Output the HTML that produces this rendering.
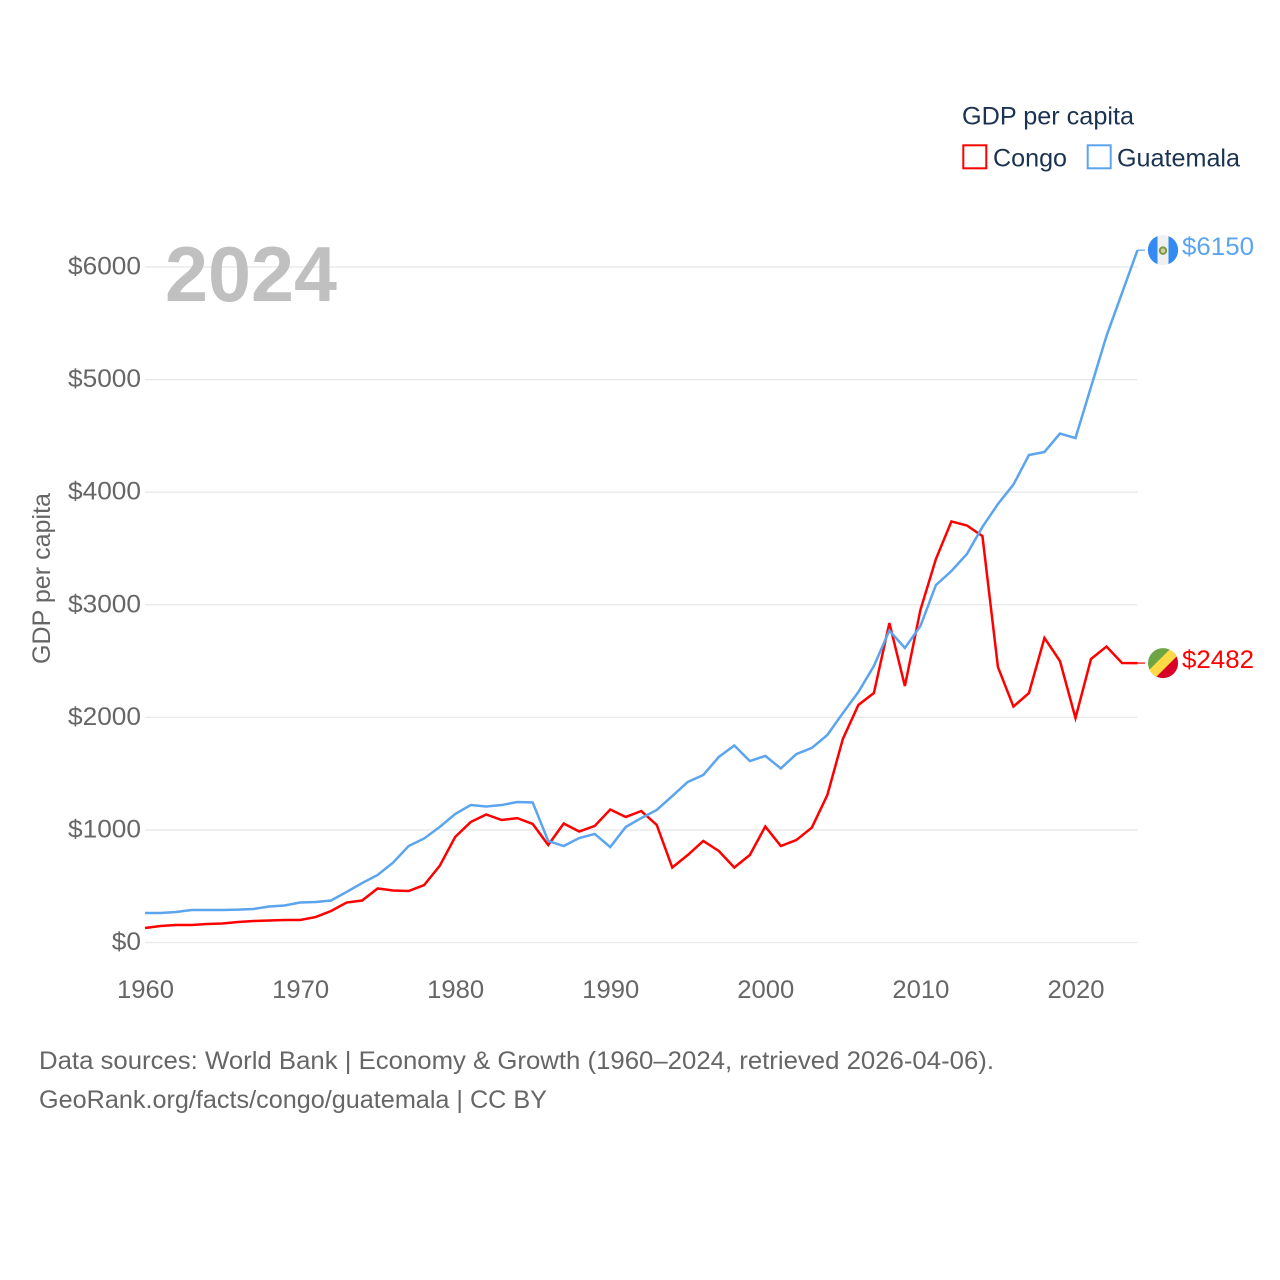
<!DOCTYPE html>
<html lang="en">
<head>
<meta charset="utf-8">
<title>GDP per capita: Congo and Guatemala</title>
<style>
  html, body { margin: 0; padding: 0; background: #fff; }
  svg { display: block; font-family: "Liberation Sans", sans-serif; }
</style>
</head>
<body>
<svg id="chart" xmlns="http://www.w3.org/2000/svg" width="1280" height="1280" viewBox="0 0 1280 1280">
  <rect x="0" y="0" width="1280" height="1280" fill="#ffffff"/>
  <g id="grid"></g>
  <g id="y-ticks"></g>
  <g id="x-ticks"></g>
  <text x="165" y="301" font-size="78" font-weight="bold" fill="#c0c0c0" textLength="172" lengthAdjust="spacingAndGlyphs">2024</text>
  <text transform="translate(50,664) rotate(-90)" font-size="25" fill="#666666" textLength="171" lengthAdjust="spacingAndGlyphs">GDP per capita</text>
  <g id="series"></g>
  <g id="end-markers"></g>
  <g>
    <text x="962" y="124.5" font-size="25" fill="#1b3251" textLength="172" lengthAdjust="spacingAndGlyphs">GDP per capita</text>
    <rect x="963.3" y="145.3" width="23" height="23" fill="none" stroke="#ff0000" stroke-width="2"/>
    <text x="993" y="166.5" font-size="25" fill="#1b3251" textLength="74" lengthAdjust="spacingAndGlyphs">Congo</text>
    <rect x="1087.7" y="145.3" width="23" height="23" fill="none" stroke="#5ba4ee" stroke-width="2"/>
    <text x="1117" y="166.5" font-size="25" fill="#1b3251" textLength="123" lengthAdjust="spacingAndGlyphs">Guatemala</text>
  </g>
  <text x="39" y="1069" font-size="25" fill="#666666" textLength="955" lengthAdjust="spacingAndGlyphs">Data sources: World Bank | Economy &amp; Growth (1960–2024, retrieved 2026-04-06).</text>
  <text x="39" y="1108" font-size="25" fill="#666666" textLength="508" lengthAdjust="spacingAndGlyphs">GeoRank.org/facts/congo/guatemala | CC BY</text>
</svg>
<script>
const startYear = 1960;
const xTickYears = [1960, 1970, 1980, 1990, 2000, 2010, 2020];
const yTickValues = [0, 1000, 2000, 3000, 4000, 5000, 6000];
const congoValues = [
  129, 147, 155, 156, 164, 169, 182, 191, 195, 200,
  200, 226, 280, 355, 373, 480, 462, 457, 510, 680,
  937, 1070, 1137, 1088, 1105, 1053, 866, 1057, 986, 1035,
  1181, 1115, 1168, 1044, 666, 777, 902, 813, 666, 777,
  1030, 857, 910, 1021, 1310, 1808, 2110, 2216, 2838, 2278,
  2953, 3406, 3740, 3704, 3610, 2447, 2096, 2216, 2705, 2500,
  1994, 2518, 2629, 2483, 2482
];
const guatemalaValues = [
  262, 262, 271, 289, 289, 289, 292, 298, 320, 329,
  355, 360, 373, 449, 528, 600, 710, 857, 924, 1026,
  1141, 1221, 1208, 1221, 1248, 1244, 902, 857, 928, 964,
  848, 1026, 1105, 1177, 1301, 1426, 1488, 1648, 1750, 1612,
  1657, 1546, 1674, 1728, 1843, 2038, 2225, 2456, 2771, 2616,
  2811, 3175, 3300, 3451, 3691, 3895, 4068, 4330, 4357, 4521,
  4481, 4934, 5388, 5769, 6150
];

const NS = 'http://www.w3.org/2000/svg';
const xScale = year => 145 + (year - 1960) * 15.508;
const yScale = value => 942.5 - value * 0.11258;
const lastYear = startYear + congoValues.length - 1;

function make(tag, attrs, parent) {
  const el = document.createElementNS(NS, tag);
  for (const k in attrs) el.setAttribute(k, attrs[k]);
  parent.appendChild(el);
  return el;
}

const gridGroup = document.getElementById('grid');
const yTickGroup = document.getElementById('y-ticks');
const xTickGroup = document.getElementById('x-ticks');
const seriesGroup = document.getElementById('series');
const markerGroup = document.getElementById('end-markers');

yTickValues.forEach(value => {
  const line = make('line', { x1: xScale(startYear), x2: xScale(lastYear), y1: yScale(value), y2: yScale(value), stroke: '#e8e8e8', 'stroke-width': 1.3 }, gridGroup);
  
  
  const label = '$' + value;
  const text = make('text', { x: 141, y: yScale(value) + 7.5, 'text-anchor': 'end', 'font-size': 25, fill: '#666666', textLength: label.length * 14.6, lengthAdjust: 'spacingAndGlyphs' }, yTickGroup);
  text.textContent = label;
  
  
});

xTickYears.forEach(year => {
  const text = make('text', { x: xScale(year) + 0.5, y: 998, 'text-anchor': 'middle', 'font-size': 25, fill: '#666666', textLength: 57, lengthAdjust: 'spacingAndGlyphs' }, xTickGroup);
  text.textContent = String(year);
  
  
});

function drawLine(values, color, name) {
  const pts = values.map((v, i) => xScale(startYear + i).toFixed(2) + ',' + yScale(v).toFixed(2)).join(' ');
  const line = make('polyline', { points: pts, fill: 'none', stroke: color, 'stroke-width': 2.5, 'stroke-linejoin': 'miter' }, seriesGroup);
  
  
}
drawLine(congoValues, '#ff0000', 'line-congo');
drawLine(guatemalaValues, '#5ba4ee', 'line-guatemala');

function drawEnd(values, color, drawFlag, connectorName, flagName, labelName) {
  const v = values[values.length - 1];
  const y = yScale(v);
  const connector = make('line', { x1: xScale(lastYear), x2: 1145, y1: y, y2: y, stroke: color, 'stroke-width': 1.2 }, markerGroup);
  
  
  const flag = make('g', { transform: 'translate(1163,' + y + ')' }, markerGroup);
  
  
  drawFlag(flag);
  const label = '$' + v;
  const text = make('text', { x: 1182, y: y + 5, 'font-size': 25, fill: color, textLength: 72, lengthAdjust: 'spacingAndGlyphs' }, markerGroup);
  text.textContent = label;
  
  
}

function guatemalaFlag(g) {
  make('circle', { cx: 0, cy: 0, r: 15, fill: '#f0f0f0' }, g);
  make('path', { d: 'M-5.5,-14 A15,15 0 0 0 -5.5,14 Z', fill: '#338af3' }, g);
  make('path', { d: 'M5.5,-14 A15,15 0 0 1 5.5,14 Z', fill: '#338af3' }, g);
  make('circle', { cx: 0, cy: 0.5, r: 3.2, fill: '#d8cfa8', stroke: '#7a9a45', 'stroke-width': 2 }, g);
}
function congoFlag(g) {
  make('circle', { cx: 0, cy: 0, r: 15, fill: '#6da544' }, g);
  make('path', { d: 'M-10.6,10.6 A15,15 0 0 0 15,0 A15,15 0 0 0 10.6,-10.6 Z', fill: '#d80027' }, g);
  make('path', { d: 'M-13.5,6.5 A15,15 0 0 0 -6.5,13.5 L13.5,-6.5 A15,15 0 0 0 6.5,-13.5 Z', fill: '#ffda44' }, g);
}

drawEnd(congoValues, '#ff0000', congoFlag, 'connector-congo', 'flag-congo', 'value-label-congo');
drawEnd(guatemalaValues, '#5ba4ee', guatemalaFlag, 'connector-guatemala', 'flag-guatemala', 'value-label-guatemala');
</script>
</body>
</html>
